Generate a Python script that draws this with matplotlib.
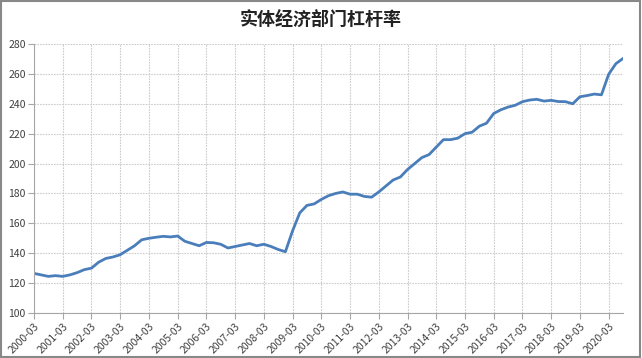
import matplotlib
matplotlib.use('agg')
from matplotlib import pyplot as plt
import numpy as np

plt.rcParams['font.family'] = ['Noto Sans CJK SC', 'DejaVu Sans']

# quarterly leverage ratio, 2000-03 .. 2020-09 (one row per year)
leverage = [
    126.5, 125.5, 124.5, 125.0,   # 2000
    124.5, 125.5, 127.0, 129.0,   # 2001
    130.0, 134.0, 136.5, 137.5,   # 2002
    139.0, 142.0, 145.0, 149.0,   # 2003
    150.0, 150.7, 151.3, 150.9,   # 2004
    151.5, 148.0, 146.5, 145.0,   # 2005
    147.2, 147.0, 146.0, 143.5,   # 2006
    144.5, 145.5, 146.5, 145.0,   # 2007
    146.0, 144.5, 142.5, 141.0,   # 2008
    155.0, 167.0, 172.0, 173.0,   # 2009
    176.0, 178.5, 180.0, 181.0,   # 2010
    179.5, 179.5, 178.0, 177.5,   # 2011
    181.0, 185.0, 189.0, 191.0,   # 2012
    196.0, 200.0, 204.0, 206.0,   # 2013
    211.0, 216.0, 216.0, 217.0,   # 2014
    220.0, 221.0, 225.0, 227.0,   # 2015
    233.5, 236.0, 237.8, 239.0,   # 2016
    241.4, 242.5, 243.0, 241.8,   # 2017
    242.3, 241.5, 241.4, 240.0,   # 2018
    244.7, 245.5, 246.5, 246.0,   # 2019
    259.7, 266.8, 270.3,          # 2020
]
years = list(range(2000, 2021))
tick_labels = [f'{y}-03' for y in years]

x = np.arange(len(leverage))

fig = plt.figure(figsize=(6.42, 3.58), dpi=100)
ax = fig.add_axes([34 / 642, 1 - 313 / 358, (623 - 34) / 642, (313 - 44) / 358])

ax.plot(x, leverage, color='#4a7ebb', lw=2.0, solid_joinstyle='round')

ax.set_xlim(0, len(leverage) - 1)
ax.set_ylim(100, 280)
ax.set_yticks(range(100, 281, 20))
ax.set_xticks(np.arange(0, len(leverage), 4))
ax.set_xticklabels(tick_labels, rotation=45, ha='right', rotation_mode='anchor')

ax.grid(True, color='#cccccc', lw=0.8, ls=(0, (1.5, 1)))
ax.set_axisbelow(True)
for s in ['top', 'right']:
    ax.spines[s].set_visible(False)
for s in ['left', 'bottom']:
    ax.spines[s].set_color('#a6a6a6')
    ax.spines[s].set_linewidth(0.8)
ax.tick_params(axis='both', labelsize=7.5, colors='#a6a6a6', labelcolor='#404040',
               length=4, width=0.8, pad=2)

fig.text(0.5, 1 - 19 / 358, '实体经济部门杠杆率', ha='center', va='center',
         fontsize=13, fontweight='bold', color='#222222')

border = plt.Rectangle((0.002, 0.003), 0.995, 0.994, transform=fig.transFigure,
                       fill=False, edgecolor='#888888', lw=1.5)
fig.patches.append(border)

fig.savefig('out.png', dpi=100)
